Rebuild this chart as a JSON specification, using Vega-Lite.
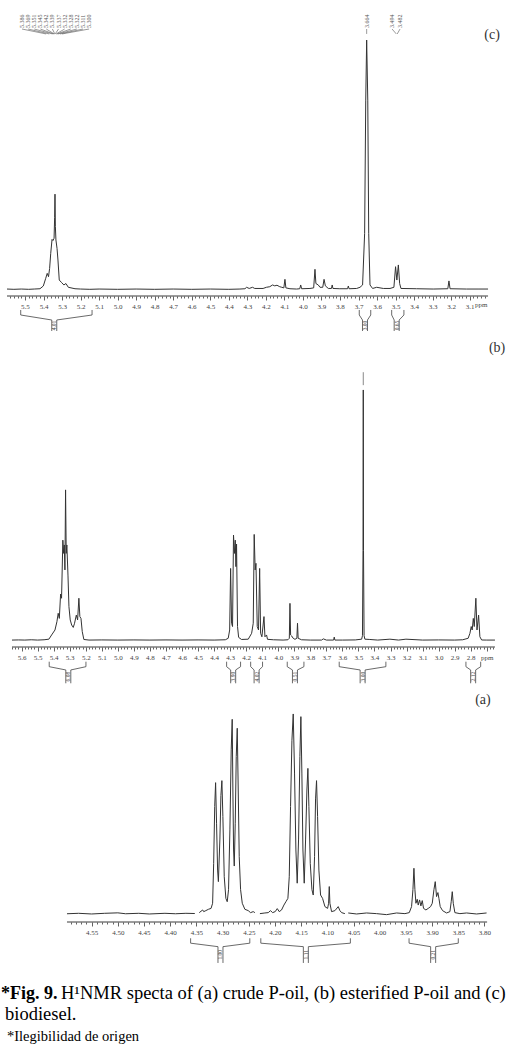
{
"$schema": "https://vega.github.io/schema/vega-lite/v6.json",
"padding": 0,
"background": "white",
"config": {
  "view": {"stroke": null},
  "axis": {"domain": false, "tickColor": "#3a3a3a", "labelFont": "Liberation Serif", "labelFontSize": 7, "labelColor": "#444", "labelPadding": 2, "grid": false, "labelFlush": false, "labelOverlap": false, "tickWidth": 0.8},
  "text": {"font": "Liberation Serif"}
},
"datasets": {
  "specC": [
    {"p":5.597,"i":0.4},{"p":5.56,"i":0.3},{"p":5.52,"i":0.4},{"p":5.48,"i":0.3},{"p":5.45,"i":0.4},{"p":5.419,"i":0.5},{"p":5.401,"i":1.45},{"p":5.388,"i":4.1},{"p":5.380,"i":5.8},{"p":5.373,"i":4.65},{"p":5.367,"i":7.5},{"p":5.361,"i":12.7},{"p":5.354,"i":17.5},{"p":5.349,"i":17.1},{"p":5.343,"i":17.9},{"p":5.340,"i":25},{"p":5.338,"i":33.1},{"p":5.336,"i":22},{"p":5.333,"i":17.3},{"p":5.327,"i":14.4},{"p":5.322,"i":10.4},{"p":5.315,"i":3.5},{"p":5.302,"i":2.6},{"p":5.290,"i":1.8},{"p":5.279,"i":2.3},{"p":5.266,"i":1.0},{"p":5.23,"i":0.5},{"p":5.2,"i":0.4},{"p":5.15,"i":0.3},{"p":5.1,"i":0.4},{"p":5.0,"i":0.3},{"p":4.9,"i":0.4},{"p":4.8,"i":0.3},{"p":4.7,"i":0.4},{"p":4.6,"i":0.3},{"p":4.5,"i":0.4},{"p":4.4,"i":0.3},{"p":4.34,"i":0.4},{"p":4.313,"i":0.5},{"p":4.304,"i":1.0},{"p":4.290,"i":0.6},{"p":4.272,"i":1.0},{"p":4.260,"i":0.6},{"p":4.215,"i":0.6},{"p":4.197,"i":1.0},{"p":4.179,"i":1.2},{"p":4.164,"i":1.8},{"p":4.152,"i":1.5},{"p":4.140,"i":1.7},{"p":4.125,"i":1.2},{"p":4.114,"i":1.0},{"p":4.103,"i":0.8},{"p":4.097,"i":3.75},{"p":4.092,"i":0.8},{"p":4.070,"i":0.5},{"p":4.034,"i":0.4},{"p":4.017,"i":0.5},{"p":4.012,"i":1.8},{"p":4.007,"i":0.5},{"p":3.962,"i":0.6},{"p":3.942,"i":0.8},{"p":3.935,"i":7.2},{"p":3.930,"i":2.3},{"p":3.917,"i":1.8},{"p":3.908,"i":1.0},{"p":3.893,"i":1.0},{"p":3.886,"i":3.75},{"p":3.879,"i":1.5},{"p":3.863,"i":0.6},{"p":3.846,"i":0.6},{"p":3.842,"i":1.8},{"p":3.838,"i":0.6},{"p":3.801,"i":0.5},{"p":3.759,"i":0.5},{"p":3.755,"i":1.45},{"p":3.751,"i":0.5},{"p":3.71,"i":0.6},{"p":3.692,"i":1.0},{"p":3.678,"i":1.8},{"p":3.667,"i":19.6},{"p":3.661,"i":65.5},{"p":3.656,"i":86.2},{"p":3.650,"i":65.5},{"p":3.645,"i":19.6},{"p":3.638,"i":1.8},{"p":3.624,"i":0.6},{"p":3.602,"i":1.0},{"p":3.566,"i":0.6},{"p":3.530,"i":0.6},{"p":3.509,"i":1.0},{"p":3.500,"i":8.1},{"p":3.493,"i":3.5},{"p":3.485,"i":8.7},{"p":3.478,"i":2.3},{"p":3.471,"i":0.6},{"p":3.387,"i":0.5},{"p":3.297,"i":0.4},{"p":3.218,"i":0.5},{"p":3.212,"i":3.2},{"p":3.206,"i":0.5},{"p":3.117,"i":0.4},{"p":3.05,"i":0.4},{"p":3.001,"i":0.4}
  ],
  "specB": [
    {"p":5.66,"i":0.3},{"p":5.62,"i":0.35},{"p":5.58,"i":0.3},{"p":5.54,"i":0.4},{"p":5.50,"i":0.3},{"p":5.46,"i":0.4},{"p":5.43,"i":0.6},{"p":5.413,"i":2.0},{"p":5.392,"i":3.65},{"p":5.380,"i":6.4},{"p":5.372,"i":9.2},{"p":5.365,"i":7.5},{"p":5.357,"i":15.6},{"p":5.351,"i":14.2},{"p":5.343,"i":33.5},{"p":5.338,"i":29.1},{"p":5.334,"i":31.9},{"p":5.330,"i":23.6},{"p":5.326,"i":50.2},{"p":5.322,"i":29.1},{"p":5.318,"i":31.9},{"p":5.311,"i":21.9},{"p":5.305,"i":11.4},{"p":5.297,"i":7.0},{"p":5.288,"i":5.3},{"p":5.278,"i":4.5},{"p":5.270,"i":5.9},{"p":5.259,"i":8.6},{"p":5.251,"i":7.0},{"p":5.243,"i":14.2},{"p":5.237,"i":8.1},{"p":5.230,"i":7.5},{"p":5.222,"i":3.1},{"p":5.212,"i":0.5},{"p":5.18,"i":0.3},{"p":5.1,"i":0.35},{"p":5.0,"i":0.3},{"p":4.9,"i":0.35},{"p":4.8,"i":0.3},{"p":4.7,"i":0.35},{"p":4.6,"i":0.3},{"p":4.5,"i":0.35},{"p":4.4,"i":0.3},{"p":4.33,"i":0.4},{"p":4.312,"i":0.9},{"p":4.303,"i":3.65},{"p":4.297,"i":24.1},{"p":4.291,"i":5.9},{"p":4.285,"i":4.8},{"p":4.279,"i":35.2},{"p":4.273,"i":29.1},{"p":4.268,"i":33.5},{"p":4.264,"i":24.7},{"p":4.260,"i":32.2},{"p":4.254,"i":4.8},{"p":4.247,"i":1.2},{"p":4.229,"i":0.5},{"p":4.187,"i":0.6},{"p":4.166,"i":2.55},{"p":4.156,"i":5.9},{"p":4.150,"i":35.4},{"p":4.144,"i":23.6},{"p":4.139,"i":25.8},{"p":4.131,"i":4.8},{"p":4.123,"i":3.65},{"p":4.116,"i":24.1},{"p":4.110,"i":2.55},{"p":4.102,"i":1.4},{"p":4.089,"i":8.1},{"p":4.083,"i":1.4},{"p":4.073,"i":2.0},{"p":4.067,"i":0.55},{"p":4.03,"i":0.4},{"p":3.97,"i":0.3},{"p":3.94,"i":0.4},{"p":3.931,"i":0.9},{"p":3.927,"i":12.5},{"p":3.923,"i":2.0},{"p":3.917,"i":1.7},{"p":3.907,"i":0.9},{"p":3.896,"i":0.55},{"p":3.884,"i":0.9},{"p":3.880,"i":5.9},{"p":3.876,"i":0.9},{"p":3.855,"i":0.4},{"p":3.8,"i":0.3},{"p":3.73,"i":0.3},{"p":3.719,"i":0.7},{"p":3.70,"i":0.3},{"p":3.655,"i":0.3},{"p":3.651,"i":1.3},{"p":3.647,"i":0.3},{"p":3.6,"i":0.3},{"p":3.52,"i":0.35},{"p":3.480,"i":0.6},{"p":3.475,"i":1.8},{"p":3.4715,"i":30},{"p":3.470,"i":83.4},{"p":3.4685,"i":30},{"p":3.465,"i":1.8},{"p":3.460,"i":0.6},{"p":3.429,"i":0.5},{"p":3.38,"i":0.3},{"p":3.304,"i":0.6},{"p":3.25,"i":0.3},{"p":3.204,"i":0.6},{"p":3.1,"i":0.3},{"p":3.0,"i":0.35},{"p":2.9,"i":0.3},{"p":2.85,"i":0.4},{"p":2.816,"i":0.9},{"p":2.805,"i":2.55},{"p":2.797,"i":4.8},{"p":2.791,"i":3.65},{"p":2.784,"i":7.5},{"p":2.778,"i":4.8},{"p":2.768,"i":14.2},{"p":2.761,"i":3.65},{"p":2.751,"i":8.6},{"p":2.743,"i":1.4},{"p":2.732,"i":0.33},{"p":2.70,"i":0.3},{"p":2.649,"i":0.3}
  ],
  "specA": [
    {"s":1,"p":4.597,"i":0.1},{"s":1,"p":4.575,"i":0.3},{"s":1,"p":4.55,"i":0.0},{"s":1,"p":4.525,"i":0.3},{"s":1,"p":4.50,"i":0.5},{"s":1,"p":4.485,"i":0.1},{"s":1,"p":4.46,"i":0.3},{"s":1,"p":4.44,"i":0.0},{"s":1,"p":4.41,"i":0.3},{"s":1,"p":4.39,"i":0.1},{"s":1,"p":4.37,"i":0.3},{"s":1,"p":4.353,"i":0.2},
    {"s":2,"p":4.3445,"i":0.6},{"s":2,"p":4.338,"i":1.8},{"s":2,"p":4.336,"i":1.05},{"s":2,"p":4.332,"i":1.5},{"s":2,"p":4.327,"i":2.1},{"s":2,"p":4.322,"i":2.5},{"s":2,"p":4.319,"i":4.8},{"s":2,"p":4.317,"i":22.7},{"s":2,"p":4.315,"i":48.2},{"s":2,"p":4.3133,"i":58.9},{"s":2,"p":4.3115,"i":40.7},{"s":2,"p":4.3095,"i":19.7},{"s":2,"p":4.308,"i":14.5},{"s":2,"p":4.3051,"i":33.6},{"s":2,"p":4.3032,"i":53.1},{"s":2,"p":4.3013,"i":59.8},{"s":2,"p":4.2994,"i":43.7},{"s":2,"p":4.2968,"i":16.7},{"s":2,"p":4.2937,"i":7.0},{"s":2,"p":4.2911,"i":5.5},{"s":2,"p":4.2886,"i":10.9},{"s":2,"p":4.2860,"i":37.7},{"s":2,"p":4.2835,"i":73.6},{"s":2,"p":4.2816,"i":87.3},{"s":2,"p":4.2803,"i":55.6},{"s":2,"p":4.279,"i":28.7},{"s":2,"p":4.2777,"i":21.5},{"s":2,"p":4.2758,"i":40.7},{"s":2,"p":4.2739,"i":70.6},{"s":2,"p":4.2720,"i":83.3},{"s":2,"p":4.2701,"i":55.6},{"s":2,"p":4.2682,"i":25.7},{"s":2,"p":4.2656,"i":10.9},{"s":2,"p":4.2624,"i":4.8},{"s":2,"p":4.2574,"i":2.1},{"s":2,"p":4.2510,"i":1.5},{"s":2,"p":4.2466,"i":0.6},{"s":2,"p":4.2415,"i":1.05},{"s":2,"p":4.2383,"i":0.6},
    {"s":3,"p":4.2287,"i":0.15},{"s":3,"p":4.2192,"i":0.45},{"s":3,"p":4.2128,"i":0.6},{"s":3,"p":4.2084,"i":1.5},{"s":3,"p":4.2046,"i":0.6},{"s":3,"p":4.1995,"i":1.05},{"s":3,"p":4.1956,"i":2.4},{"s":3,"p":4.1918,"i":1.05},{"s":3,"p":4.1874,"i":1.8},{"s":3,"p":4.1829,"i":4.0},{"s":3,"p":4.1791,"i":5.5},{"s":3,"p":4.1753,"i":7.0},{"s":3,"p":4.1727,"i":16.7},{"s":3,"p":4.1702,"i":48.2},{"s":3,"p":4.1676,"i":77.9},{"s":3,"p":4.1651,"i":89.7},{"s":3,"p":4.1626,"i":63.2},{"s":3,"p":4.1600,"i":28.7},{"s":3,"p":4.1575,"i":13.8},{"s":3,"p":4.1549,"i":33.6},{"s":3,"p":4.1524,"i":70.6},{"s":3,"p":4.1505,"i":88.5},{"s":3,"p":4.1486,"i":63.2},{"s":3,"p":4.1466,"i":28.7},{"s":3,"p":4.1441,"i":13.8},{"s":3,"p":4.1415,"i":33.6},{"s":3,"p":4.1390,"i":55.6},{"s":3,"p":4.1371,"i":65.3},{"s":3,"p":4.1352,"i":48.2},{"s":3,"p":4.1326,"i":22.7},{"s":3,"p":4.1294,"i":10.9},{"s":3,"p":4.1269,"i":8.5},{"s":3,"p":4.1244,"i":25.7},{"s":3,"p":4.1225,"i":51.6},{"s":3,"p":4.1206,"i":59.8},{"s":3,"p":4.1186,"i":43.7},{"s":3,"p":4.1161,"i":19.7},{"s":3,"p":4.1129,"i":8.5},{"s":3,"p":4.1091,"i":7.0},{"s":3,"p":4.1046,"i":3.3},{"s":3,"p":4.0995,"i":2.5},{"s":3,"p":4.0976,"i":4.8},{"s":3,"p":4.0963,"i":12.3},{"s":3,"p":4.0951,"i":4.8},{"s":3,"p":4.0919,"i":1.05},{"s":3,"p":4.0855,"i":1.5},{"s":3,"p":4.0792,"i":3.3},{"s":3,"p":4.0760,"i":1.5},{"s":3,"p":4.0728,"i":0.6},{"s":3,"p":4.0665,"i":0.15},
    {"s":4,"p":4.0601,"i":0.45},{"s":4,"p":4.0442,"i":0.0},{"s":4,"p":4.0251,"i":0.45},{"s":4,"p":4.0060,"i":0.15},{"s":4,"p":3.9869,"i":-0.3},{"s":4,"p":3.9678,"i":0.45},{"s":4,"p":3.9519,"i":0.15},{"s":4,"p":3.9436,"i":0.6},{"s":4,"p":3.9392,"i":3.3},{"s":4,"p":3.9366,"i":10.9},{"s":4,"p":3.9347,"i":20.5},{"s":4,"p":3.9328,"i":10.9},{"s":4,"p":3.9309,"i":4.8},{"s":4,"p":3.9284,"i":6.6},{"s":4,"p":3.9265,"i":4.0},{"s":4,"p":3.9239,"i":6.3},{"s":4,"p":3.9214,"i":3.6},{"s":4,"p":3.9188,"i":6.0},{"s":4,"p":3.9163,"i":2.5},{"s":4,"p":3.9118,"i":1.8},{"s":4,"p":3.9074,"i":2.5},{"s":4,"p":3.9029,"i":3.3},{"s":4,"p":3.8997,"i":4.8},{"s":4,"p":3.8965,"i":10.9},{"s":4,"p":3.8940,"i":14.5},{"s":4,"p":3.8915,"i":7.8},{"s":4,"p":3.8889,"i":9.6},{"s":4,"p":3.8870,"i":7.0},{"s":4,"p":3.8845,"i":3.3},{"s":4,"p":3.8800,"i":1.5},{"s":4,"p":3.8724,"i":0.45},{"s":4,"p":3.8660,"i":1.05},{"s":4,"p":3.8635,"i":5.5},{"s":4,"p":3.8615,"i":10.0},{"s":4,"p":3.8596,"i":4.8},{"s":4,"p":3.8565,"i":0.6},{"s":4,"p":3.8469,"i":0.15},{"s":4,"p":3.8342,"i":0.45},{"s":4,"p":3.8151,"i":0.0},{"s":4,"p":3.7960,"i":0.45}
  ],
  "axisC": [{"lo": 5.597, "hi": 3.001}],
  "axisB": [{"lo": 5.660, "hi": 2.649}],
  "axisA": [{"lo": 4.597, "hi": 3.795}],
  "intC": [
    {"lo":5.523,"hi":5.138,"c":5.342,"label":"4.01"},
    {"lo":3.696,"hi":3.634,"c":3.665,"label":"3.00"},
    {"lo":3.521,"hi":3.455,"c":3.494,"label":"0.65"}
  ],
  "intB": [
    {"lo":5.428,"hi":5.199,"c":5.309,"label":"6.08"},
    {"lo":4.322,"hi":4.235,"c":4.281,"label":"3.90"},
    {"lo":4.172,"hi":4.098,"c":4.135,"label":"4.02"},
    {"lo":3.944,"hi":3.840,"c":3.896,"label":"0.51"},
    {"lo":3.620,"hi":3.329,"c":3.474,"label":"3.00"},
    {"lo":2.830,"hi":2.738,"c":2.785,"label":"2.12"}
  ],
  "intA": [
    {"lo":4.361,"hi":4.248,"c":4.304,"label":"1.00"},
    {"lo":4.227,"hi":4.056,"c":4.141,"label":"1.11"},
    {"lo":3.944,"hi":3.850,"c":3.898,"label":"0.21"}
  ],
  "pkC": [
    {"t":"5.386","lx":5.516,"pk":5.386},{"t":"5.369","lx":5.483,"pk":5.369},{"t":"5.351","lx":5.450,"pk":5.351},{"t":"5.345","lx":5.417,"pk":5.345},{"t":"5.342","lx":5.385,"pk":5.342},{"t":"5.339","lx":5.352,"pk":5.339},{"t":"5.337","lx":5.319,"pk":5.337},{"t":"5.332","lx":5.286,"pk":5.332},{"t":"5.328","lx":5.253,"pk":5.328},{"t":"5.322","lx":5.220,"pk":5.322},{"t":"5.311","lx":5.187,"pk":5.311},{"t":"5.300","lx":5.154,"pk":5.300},
    {"t":"3.664","lx":3.656,"pk":3.656},{"t":"3.494","lx":3.519,"pk":3.496},{"t":"3.482","lx":3.476,"pk":3.491}
  ]
},
"spacing": 44,
"bounds": "flush",
"vconcat": [
  {"width": 519, "height": 296,
   "layer": [
    {"data": {"name": "specC"}, "mark": {"type": "line", "color": "#333", "strokeWidth": 1},
     "encoding": {
      "x": {"field": "p", "type": "quantitative", "scale": {"domain": [5.6348, 2.8339], "nice": false, "zero": false},
            "axis": {"title": null, "tickCount": 140,
                     "labelExpr": "(datum.value > 5.597 || datum.value < 3.001) ? '' : (abs(datum.value-3.04)<0.001 ? 'ppm' : (abs(datum.value*10-round(datum.value*10))<0.01 ? format(datum.value,'.1f') : ''))",
                     "tickOpacity": {"condition": {"test": "datum.value > 5.597 || datum.value < 3.001", "value": 0}, "value": 1},
                     "tickSize": {"condition": {"test": "abs(datum.value*10-round(datum.value*10))<0.01", "value": 4}, "value": 2}}},
      "y": {"field": "i", "type": "quantitative", "scale": {"domain": [-2, 100], "nice": false, "zero": false}, "axis": null}}},
    {"data": {"name": "axisC"}, "mark": {"type": "rule", "color": "#3a3a3a", "strokeWidth": 1},
     "encoding": {"x": {"field": "lo", "type": "quantitative"}, "x2": {"field": "hi"}, "y": {"datum": -2}}},
    {"data": {"name": "intC"}, "mark": {"type": "rule", "color": "#444", "strokeWidth": 0.8},
     "encoding": {"x": {"field": "lo", "type": "quantitative"}, "y": {"datum": -6.82}, "y2": {"datum": -8.55}}},
    {"data": {"name": "intC"}, "mark": {"type": "rule", "color": "#444", "strokeWidth": 0.8},
     "encoding": {"x": {"field": "hi", "type": "quantitative"}, "y": {"datum": -6.82}, "y2": {"datum": -8.55}}},
    {"data": {"name": "intC"}, "mark": {"type": "rule", "color": "#444", "strokeWidth": 0.8, "x2Offset": -2.5},
     "encoding": {"x": {"field": "lo", "type": "quantitative"}, "x2": {"field": "c"}, "y": {"datum": -8.55}, "y2": {"datum": -10.27}}},
    {"data": {"name": "intC"}, "mark": {"type": "rule", "color": "#444", "strokeWidth": 0.8, "x2Offset": 2.5},
     "encoding": {"x": {"field": "hi", "type": "quantitative"}, "x2": {"field": "c"}, "y": {"datum": -8.55}, "y2": {"datum": -10.27}}},
    {"data": {"name": "intC"}, "mark": {"type": "rule", "color": "#444", "strokeWidth": 0.8, "xOffset": -2.5},
     "encoding": {"x": {"field": "c", "type": "quantitative"}, "y": {"datum": -10.27}, "y2": {"datum": -14.06}}},
    {"data": {"name": "intC"}, "mark": {"type": "rule", "color": "#444", "strokeWidth": 0.8, "xOffset": 2.5},
     "encoding": {"x": {"field": "c", "type": "quantitative"}, "y": {"datum": -10.27}, "y2": {"datum": -14.06}}},
    {"data": {"name": "intC"}, "mark": {"type": "text", "angle": 270, "fontSize": 5.5, "color": "#444", "align": "center", "baseline": "middle"},
     "encoding": {"x": {"field": "c", "type": "quantitative"}, "y": {"datum": -12.16}, "text": {"field": "label"}}},
    {"data": {"name": "pkC"}, "mark": {"type": "rule", "color": "#555", "strokeWidth": 0.6},
     "encoding": {"x": {"field": "lx", "type": "quantitative"}, "x2": {"field": "pk"}, "y": {"datum": 90.0}, "y2": {"datum": 88.3}}},
    {"data": {"name": "pkC"}, "mark": {"type": "text", "angle": 270, "fontSize": 6, "color": "#555", "align": "left", "baseline": "middle"},
     "encoding": {"x": {"field": "lx", "type": "quantitative"}, "y": {"datum": 90.35}, "text": {"field": "t"}}},
    {"data": {"values": [{"t": "(c)"}]}, "mark": {"type": "text", "fontSize": 14, "color": "#333", "align": "center", "baseline": "middle"},
     "encoding": {"x": {"datum": 2.979}, "y": {"datum": 87.9}, "text": {"field": "t"}}}
   ]},
  {"width": 519, "height": 307,
   "layer": [
    {"data": {"name": "specB"}, "mark": {"type": "line", "color": "#333", "strokeWidth": 1},
     "encoding": {
      "x": {"field": "p", "type": "quantitative", "scale": {"domain": [5.7348, 2.4991], "nice": false, "zero": false},
            "axis": {"title": null, "tickCount": 160,
                     "labelExpr": "(datum.value > 5.660 || datum.value < 2.649) ? '' : (abs(datum.value-2.7)<0.001 ? 'ppm' : (abs(datum.value*10-round(datum.value*10))<0.01 ? format(datum.value,'.1f') : ''))",
                     "tickOpacity": {"condition": {"test": "datum.value > 5.660 || datum.value < 2.649", "value": 0}, "value": 1},
                     "tickSize": {"condition": {"test": "abs(datum.value*10-round(datum.value*10))<0.01", "value": 4}, "value": 2}}},
      "y": {"field": "i", "type": "quantitative", "scale": {"domain": [-2, 100], "nice": false, "zero": false}, "axis": null}}},
    {"data": {"name": "axisB"}, "mark": {"type": "rule", "color": "#3a3a3a", "strokeWidth": 1},
     "encoding": {"x": {"field": "lo", "type": "quantitative"}, "x2": {"field": "hi"}, "y": {"datum": -2}}},
    {"data": {"name": "intB"}, "mark": {"type": "rule", "color": "#444", "strokeWidth": 0.8},
     "encoding": {"x": {"field": "lo", "type": "quantitative"}, "y": {"datum": -6.88}, "y2": {"datum": -8.54}}},
    {"data": {"name": "intB"}, "mark": {"type": "rule", "color": "#444", "strokeWidth": 0.8},
     "encoding": {"x": {"field": "hi", "type": "quantitative"}, "y": {"datum": -6.88}, "y2": {"datum": -8.54}}},
    {"data": {"name": "intB"}, "mark": {"type": "rule", "color": "#444", "strokeWidth": 0.8, "x2Offset": -2.5},
     "encoding": {"x": {"field": "lo", "type": "quantitative"}, "x2": {"field": "c"}, "y": {"datum": -8.54}, "y2": {"datum": -9.63}}},
    {"data": {"name": "intB"}, "mark": {"type": "rule", "color": "#444", "strokeWidth": 0.8, "x2Offset": 2.5},
     "encoding": {"x": {"field": "hi", "type": "quantitative"}, "x2": {"field": "c"}, "y": {"datum": -8.54}, "y2": {"datum": -9.63}}},
    {"data": {"name": "intB"}, "mark": {"type": "rule", "color": "#444", "strokeWidth": 0.8, "xOffset": -2.5},
     "encoding": {"x": {"field": "c", "type": "quantitative"}, "y": {"datum": -9.63}, "y2": {"datum": -14.05}}},
    {"data": {"name": "intB"}, "mark": {"type": "rule", "color": "#444", "strokeWidth": 0.8, "xOffset": 2.5},
     "encoding": {"x": {"field": "c", "type": "quantitative"}, "y": {"datum": -9.63}, "y2": {"datum": -14.05}}},
    {"data": {"name": "intB"}, "mark": {"type": "text", "angle": 270, "fontSize": 5.5, "color": "#444", "align": "center", "baseline": "middle"},
     "encoding": {"x": {"field": "c", "type": "quantitative"}, "y": {"datum": -11.86}, "text": {"field": "label"}}},
    {"data": {"values": [{"t": "1"}]}, "mark": {"type": "rule", "color": "#555", "strokeWidth": 0.7},
     "encoding": {"x": {"datum": 3.470}, "y": {"datum": 85.0}, "y2": {"datum": 89.3}}},
    {"data": {"values": [{"t": "(b)"}]}, "mark": {"type": "text", "fontSize": 14, "color": "#333", "align": "center", "baseline": "middle"},
     "encoding": {"x": {"datum": 2.636}, "y": {"datum": 97.3}, "text": {"field": "t"}}}
   ]},
  {"width": 519, "height": 231,
   "layer": [
    {"data": {"name": "specA"}, "mark": {"type": "line", "color": "#333", "strokeWidth": 1},
     "encoding": {
      "x": {"field": "p", "type": "quantitative", "scale": {"domain": [4.7249, 3.7341], "nice": false, "zero": false},
            "axis": {"title": null, "tickCount": 99,
                     "labelExpr": "(datum.value > 4.597 || datum.value < 3.795) ? '' : (abs(datum.value*20-round(datum.value*20))<0.01 ? format(datum.value,'.2f') : '')",
                     "tickOpacity": {"condition": {"test": "datum.value > 4.597 || datum.value < 3.795", "value": 0}, "value": 1},
                     "tickSize": {"condition": {"test": "abs(datum.value*20-round(datum.value*20))<0.01", "value": 4}, "value": 2}}},
      "y": {"field": "i", "type": "quantitative", "scale": {"domain": [-3.6, 100], "nice": false, "zero": false}, "axis": null},
      "detail": {"field": "s", "type": "nominal"}}},
    {"data": {"name": "axisA"}, "mark": {"type": "rule", "color": "#3a3a3a", "strokeWidth": 1},
     "encoding": {"x": {"field": "lo", "type": "quantitative"}, "x2": {"field": "hi"}, "y": {"datum": -3.6}}},
    {"data": {"name": "intA"}, "mark": {"type": "rule", "color": "#444", "strokeWidth": 0.8},
     "encoding": {"x": {"field": "lo", "type": "quantitative"}, "y": {"datum": -10.9}, "y2": {"datum": -13.1}}},
    {"data": {"name": "intA"}, "mark": {"type": "rule", "color": "#444", "strokeWidth": 0.8},
     "encoding": {"x": {"field": "hi", "type": "quantitative"}, "y": {"datum": -10.9}, "y2": {"datum": -13.1}}},
    {"data": {"name": "intA"}, "mark": {"type": "rule", "color": "#444", "strokeWidth": 0.8, "x2Offset": -2.5},
     "encoding": {"x": {"field": "lo", "type": "quantitative"}, "x2": {"field": "c"}, "y": {"datum": -13.1}, "y2": {"datum": -14.66}}},
    {"data": {"name": "intA"}, "mark": {"type": "rule", "color": "#444", "strokeWidth": 0.8, "x2Offset": 2.5},
     "encoding": {"x": {"field": "hi", "type": "quantitative"}, "x2": {"field": "c"}, "y": {"datum": -13.1}, "y2": {"datum": -14.66}}},
    {"data": {"name": "intA"}, "mark": {"type": "rule", "color": "#444", "strokeWidth": 0.8, "xOffset": -2.5},
     "encoding": {"x": {"field": "c", "type": "quantitative"}, "y": {"datum": -14.66}, "y2": {"datum": -21.97}}},
    {"data": {"name": "intA"}, "mark": {"type": "rule", "color": "#444", "strokeWidth": 0.8, "xOffset": 2.5},
     "encoding": {"x": {"field": "c", "type": "quantitative"}, "y": {"datum": -14.66}, "y2": {"datum": -21.97}}},
    {"data": {"name": "intA"}, "mark": {"type": "text", "angle": 270, "fontSize": 5.5, "color": "#444", "align": "center", "baseline": "middle"},
     "encoding": {"x": {"field": "c", "type": "quantitative"}, "y": {"datum": -18.3}, "text": {"field": "label"}}},
    {"data": {"values": [{"t": "(a)"}]}, "mark": {"type": "text", "fontSize": 14, "color": "#333", "align": "center", "baseline": "middle"},
     "encoding": {"x": {"datum": 3.803}, "y": {"datum": 96.0}, "text": {"field": "t"}}}
   ]},
  {"width": 519, "height": 80,
   "layer": [
    {"data": {"values": [{"line": 1, "t": "*Fig. 9."}]},
     "mark": {"type": "text", "align": "left", "baseline": "alphabetic", "fontSize": 18, "fontWeight": "bold", "color": "#000"},
     "encoding": {"x": {"value": 1}, "y": {"field": "line", "type": "quantitative", "scale": {"domain": [-0.5714, 3.2381], "reverse": true, "nice": false, "zero": false}, "axis": null}, "text": {"field": "t"}}},
    {"data": {"values": [{"line": 1, "t": "H¹NMR specta of (a) crude P-oil, (b) esterified P-oil and (c)"}]},
     "mark": {"type": "text", "align": "left", "baseline": "alphabetic", "fontSize": 18.5, "color": "#000", "dx": 60},
     "encoding": {"x": {"value": 1}, "y": {"field": "line", "type": "quantitative"}, "text": {"field": "t"}}},
    {"data": {"values": [{"line": 2, "t": "biodiesel."}]},
     "mark": {"type": "text", "align": "left", "baseline": "alphabetic", "fontSize": 18.5, "color": "#000"},
     "encoding": {"x": {"value": 5}, "y": {"field": "line", "type": "quantitative"}, "text": {"field": "t"}}},
    {"data": {"values": [{"line": 3, "t": "*Ilegibilidad de origen"}]},
     "mark": {"type": "text", "align": "left", "baseline": "alphabetic", "fontSize": 14.5, "color": "#000"},
     "encoding": {"x": {"value": 7}, "y": {"field": "line", "type": "quantitative"}, "text": {"field": "t"}}}
   ]}
]
}
